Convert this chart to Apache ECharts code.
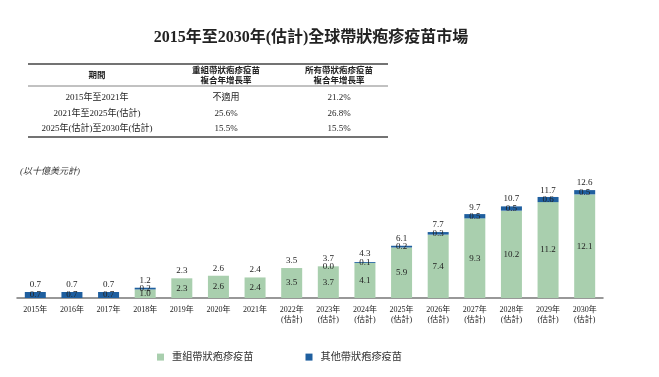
<!DOCTYPE html>
<html>
<head>
<meta charset="utf-8">
<script src="https://cdn.jsdelivr.net/npm/echarts@6/dist/echarts.min.js"></script>
<style>
  html, body { margin: 0; padding: 0; background: #fff; }
  #chart { width: 659px; height: 377px; }
</style>
</head>
<body>
<div id="chart"></div>
<script>
  // 年份
  var categories = ['2015年', '2016年', '2017年', '2018年', '2019年', '2020年', '2021年',
    '2022年\n(估計)', '2023年\n(估計)', '2024年\n(估計)', '2025年\n(估計)', '2026年\n(估計)',
    '2027年\n(估計)', '2028年\n(估計)', '2029年\n(估計)', '2030年\n(估計)'];
  // 重組帶狀疱疹疫苗
  var recombinant = [null, null, null, 1.0, 2.3, 2.6, 2.4, 3.5, 3.7, 4.1, 5.9, 7.4, 9.3, 10.2, 11.2, 12.1];
  // 其他帶狀疱疹疫苗
  var others = [0.7, 0.7, 0.7, 0.2, null, null, null, null, 0.0, 0.1, 0.2, 0.3, 0.5, 0.5, 0.6, 0.5];
  // 合計
  var totals = [0.7, 0.7, 0.7, 1.2, 2.3, 2.6, 2.4, 3.5, 3.7, 4.3, 6.1, 7.7, 9.7, 10.7, 11.7, 12.6];

  // 表格
  var tableHeader = ['期間', '重組帶狀疱疹疫苗\n複合年增長率', '所有帶狀疱疹疫苗\n複合年增長率'];
  var tablePeriods = ['2015年至2021年', '2021年至2025年(估計)', '2025年(估計)至2030年(估計)'];
  var tableRecombinant = ['不適用', '25.6%', '15.5%'];
  var tableAll = ['21.2%', '26.8%', '15.5%'];

  var font = "'Liberation Serif', 'Noto Sans CJK TC', serif";
  var colX = [97, 226, 339];
  var rowY = [98, 114, 129];

  var graphics = [
    { type: 'line', shape: { x1: 28, y1: 64, x2: 388, y2: 64 }, style: { stroke: '#444', lineWidth: 1.5 } },
    { type: 'line', shape: { x1: 28, y1: 86, x2: 388, y2: 86 }, style: { stroke: '#666', lineWidth: 0.8 } },
    { type: 'line', shape: { x1: 28, y1: 137, x2: 388, y2: 137 }, style: { stroke: '#444', lineWidth: 1.5 } },
    { type: 'text', x: 20, y: 172, style: { text: '(以十億美元計)', fontSize: 9, fontStyle: 'italic', fill: '#333', fontFamily: font, verticalAlign: 'middle' } }
  ];
  tableHeader.forEach(function (t, i) {
    graphics.push({ type: 'text', x: colX[i], y: 75.5, style: { text: t, fill: '#222', fontSize: 8.5, fontWeight: 'bold', fontFamily: font, align: 'center', verticalAlign: 'middle', lineHeight: 10 } });
  });
  [tablePeriods, tableRecombinant, tableAll].forEach(function (col, i) {
    col.forEach(function (t, j) {
      graphics.push({ type: 'text', x: colX[i], y: rowY[j], style: { text: t, fill: '#222', fontSize: 9, fontFamily: font, align: 'center', verticalAlign: 'middle' } });
    });
  });

  var chart = echarts.init(document.getElementById('chart'));
  chart.setOption({
    animation: false,
    textStyle: { fontFamily: font },
    title: {
      text: '2015年至2030年(估計)全球帶狀疱疹疫苗市場',
      left: 306,
      top: 25,
      textAlign: 'center',
      textStyle: { fontSize: 16, fontWeight: 'bold', color: '#222', fontFamily: font }
    },
    legend: {
      data: ['重組帶狀疱疹疫苗', '其他帶狀疱疹疫苗'],
      left: 152,
      top: 347,
      icon: 'rect',
      itemWidth: 7,
      itemHeight: 7,
      itemGap: 52,
      textStyle: { fontSize: 10.2, color: '#333', fontFamily: font, padding: [0, 0, 0, 3] }
    },
    grid: { left: 17, right: 56, top: 161, bottom: 79 },
    xAxis: {
      type: 'category',
      data: categories,
      axisLine: { lineStyle: { color: '#777', width: 1.5 } },
      axisTick: { show: false },
      axisLabel: { interval: 0, fontSize: 8, color: '#222', lineHeight: 10, margin: 7 }
    },
    yAxis: { type: 'value', min: 0, max: 16, show: false },
    series: [
      {
        name: '重組帶狀疱疹疫苗',
        type: 'bar',
        stack: 'market',
        barWidth: 21,
        data: recombinant,
        itemStyle: { color: '#a9cfae' },
        label: { show: true, position: 'inside', fontSize: 9, color: '#222',
          formatter: function (p) { return p.value == null ? '' : p.value.toFixed(1); } }
      },
      {
        name: '其他帶狀疱疹疫苗',
        type: 'bar',
        stack: 'market',
        barWidth: 21,
        data: others,
        itemStyle: { color: '#1f5f9f' },
        label: { show: true, position: 'inside', fontSize: 9, color: '#222',
          formatter: function (p) { return p.value == null ? '' : p.value.toFixed(1); } }
      },
      {
        name: '合計',
        type: 'bar',
        barWidth: 21,
        barGap: '-100%',
        z: 1,
        data: totals,
        itemStyle: { color: 'transparent' },
        label: { show: true, position: 'top', distance: 3, fontSize: 9, color: '#222',
          formatter: function (p) { return p.value.toFixed(1); } }
      }
    ],
    graphic: graphics
  });
</script>
</body>
</html>
